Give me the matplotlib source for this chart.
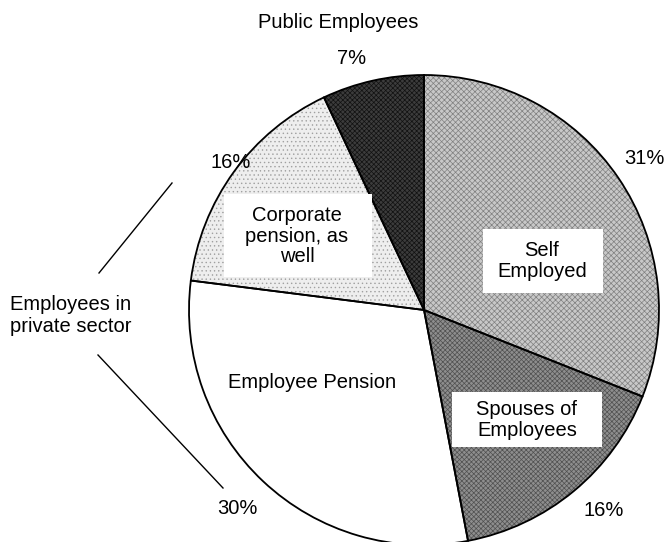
"""Pension coverage pie: share of insured persons by category."""

import matplotlib

matplotlib.use("Agg")
import matplotlib.pyplot as plt
from matplotlib.patches import Rectangle

plt.rcParams["font.family"] = ["Liberation Sans", "DejaVu Sans"]
plt.rcParams["hatch.linewidth"] = 0.5

# clockwise from 12 o'clock
categories = ["Self\nEmployed", "Spouses of\nEmployees", "Employee Pension",
              "Corporate\npension, as\nwell", "Public Employees"]
shares = [31, 16, 30, 16, 7]
pct_labels = ["31%", "16%", "30%", "16%", "7%"]

face = ["#c8c8c8", "#8e8e8e", "white", "#eeeeee", "#3c3c3c"]
hatch_col = ["#808080", "#505050", "white", "#a0a0a0", "#111111"]
hatches = ["xxxxxx", "xxxxxxx", "", "....", "xxxxxxx"]

W, H = 667, 542
fig = plt.figure(figsize=(W / 100, H / 100), dpi=100)
ax = fig.add_axes([0, 0, 1, 1])

cx, cy, r = 424, H - 310, 235

# textured fill
wedges, _ = ax.pie(shares, startangle=90, counterclock=False, center=(cx, cy),
                   radius=r, frame=True)
for w, fc, hc, h in zip(wedges, face, hatch_col, hatches):
    w.set_facecolor(fc)
    w.set_edgecolor(hc)
    w.set_linewidth(0)
    w.set_hatch(h)

# outlines on top
ax.pie(shares, startangle=90, counterclock=False, center=(cx, cy),
       radius=r, frame=True,
       wedgeprops=dict(facecolor="none", edgecolor="black", linewidth=1.3))
ax.set_xlim(0, W)
ax.set_ylim(0, H)
ax.set_aspect("equal")
ax.axis("off")

fs = 14.5

# white label boxes (x0, y0_top, x1, y1_bottom in pixels from top-left)
for x0, y0, x1, y1 in [(483, 229, 603, 293), (452, 392, 602, 447),
                       (224, 194, 372, 277)]:
    ax.add_patch(Rectangle((x0, H - y1), x1 - x0, y1 - y0, facecolor="white",
                           edgecolor="none", zorder=3))

# slice labels
ax.text(542, H - 261, categories[0], ha="center", va="center", fontsize=fs,
        linespacing=1.15, zorder=4)
ax.text(527, H - 420, categories[1], ha="center", va="center", fontsize=fs,
        linespacing=1.1, zorder=4)
ax.text(312, H - 383, categories[2], ha="center", va="center", fontsize=fs)
ax.text(297, H - 236, categories[3], ha="center", va="center", fontsize=fs,
        linespacing=1.1, zorder=4)
ax.text(338, H - 23, categories[4], ha="center", va="center", fontsize=fs)

# percentages
pct_pos = [(644, 159), (604, 510), (237, 508), (231, 163), (352, 58)]
for lab, (x, y) in zip(pct_labels, pct_pos):
    ax.text(x, H - y, lab, ha="center", va="center", fontsize=fs)

# private-sector bracket
ax.text(10, H - 315, "Employees in\nprivate sector", ha="left", va="center",
        fontsize=fs, linespacing=1.2)
ax.plot([99, 172], [H - 273, H - 183], color="black", linewidth=1)
ax.plot([98, 223], [H - 355, H - 488], color="black", linewidth=1)

fig.savefig("out.png", dpi=100)
